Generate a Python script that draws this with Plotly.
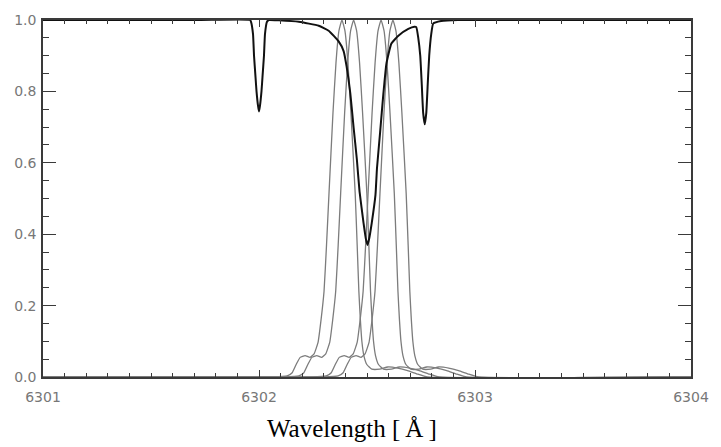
import plotly.graph_objects as go

# ---- Data ----
# Observed solar spectrum (normalised intensity) around the Fe I 6302.5 line
spec_wl = [6301.0, 6301.7235, 6301.9585, 6301.9631, 6301.9724, 6301.9770, 6301.9839, 6301.9885,
           6301.9954, 6302.0000, 6302.0046, 6302.0115, 6302.0161, 6302.0230, 6302.0276, 6302.0369,
           6302.0461, 6302.0922, 6302.1843, 6302.2765, 6302.3226, 6302.3687, 6302.3917, 6302.4055,
           6302.4226, 6302.4378, 6302.4530, 6302.4654, 6302.4839, 6302.4954, 6302.5023, 6302.5092,
           6302.5221, 6302.5392, 6302.5461, 6302.5608, 6302.5760, 6302.5899, 6302.6129, 6302.6452,
           6302.6912, 6302.7189, 6302.7281, 6302.7373, 6302.7465, 6302.7535, 6302.7600, 6302.7673,
           6302.7745, 6302.7811, 6302.7880, 6302.7972, 6302.8065, 6302.8433, 6302.9217, 6304.0]
spec_val = [1.0, 1.0, 1.0, 0.995, 0.96, 0.90, 0.84, 0.80,
            0.76, 0.744, 0.76, 0.80, 0.84, 0.90, 0.96, 0.995,
            1.0, 0.999, 0.995, 0.984, 0.97, 0.94, 0.913, 0.87,
            0.795, 0.70, 0.61, 0.52, 0.432, 0.385, 0.37, 0.385,
            0.432, 0.51, 0.584, 0.686, 0.795, 0.878, 0.934, 0.956,
            0.975, 0.981, 0.98, 0.95, 0.90, 0.82, 0.74, 0.708,
            0.74, 0.82, 0.90, 0.96, 0.99, 0.997, 1.0, 1.0]

# Filter transmission profile (offset from filter centre in Angstrom, transmission)
filt_offset = [-0.3226, -0.2535, -0.2304, -0.2120, -0.1935, -0.1705, -0.1475, -0.1290, -0.1106,
               -0.0968, -0.0829, -0.0714, -0.0599, -0.0415, -0.0276, -0.0138, 0.0,
               0.0138, 0.0276, 0.0415, 0.0613, 0.0705, 0.0783, 0.0853, 0.0922, 0.1014,
               0.1152, 0.1382, 0.1751, 0.2120, 0.2581, 0.3041, 0.3502, 0.3963]
filt_value = [0.0, 0.003, 0.012, 0.035, 0.055, 0.060, 0.055, 0.065, 0.097,
              0.16, 0.24, 0.37, 0.515, 0.74, 0.88, 0.97, 1.0,
              0.97, 0.88, 0.74, 0.515, 0.37, 0.24, 0.16, 0.10, 0.06,
              0.035, 0.022, 0.022, 0.028, 0.025, 0.018, 0.008, 0.0]
filt_centers = [6302.384, 6302.438, 6302.565, 6302.620]

x_ticks = [6301, 6302, 6303, 6304]
y_ticks = [0.0, 0.2, 0.4, 0.6, 0.8, 1.0]

fig = go.Figure()

for c in filt_centers:
    xs = [6301.0] + [c + o for o in filt_offset] + [6304.0]
    ys = [0.0] + filt_value + [0.0]
    fig.add_trace(go.Scatter(x=xs, y=ys, mode="lines",
                             line=dict(color="#7c7c7c", width=1.3, shape="spline", smoothing=0.4),
                             showlegend=False, hoverinfo="skip"))

fig.add_trace(go.Scatter(x=spec_wl, y=spec_val, mode="lines",
                         line=dict(color="#111111", width=2, shape="spline", smoothing=0.4),
                         showlegend=False))

axis_common = dict(showline=True, linecolor="#3a3a3a", linewidth=1.5, mirror="ticks",
                   ticks="inside", tickcolor="#3a3a3a", tickwidth=1.2,
                   showgrid=False, zeroline=False,
                   tickfont=dict(family="DejaVu Sans", size=14, color="#777777"))

fig.update_xaxes(range=[6301, 6304], tickvals=x_ticks, ticktext=[str(v) for v in x_ticks],
                 ticklen=7, ticklabelstandoff=6,
                 minor=dict(dtick=0.1, tick0=6301, ticklen=4, ticks="inside", tickcolor="#3a3a3a"),
                 **axis_common)
fig.update_yaxes(range=[0, 1.0], tickvals=y_ticks, ticktext=["%.1f" % v for v in y_ticks],
                 ticklen=13, ticklabelstandoff=2,
                 minor=dict(dtick=0.05, tick0=0, ticklen=6, ticks="inside", tickcolor="#3a3a3a"),
                 **axis_common)

fig.add_annotation(text="Wavelength [\u2009Å\u2009]", xref="paper", yref="paper",
                   x=0.477, y=-0.143, xanchor="center", yanchor="middle", showarrow=False,
                   font=dict(family="Liberation Serif", size=25, color="#000000"))

fig.update_layout(width=721, height=447, margin=dict(l=43, r=27, t=14, b=70),
                  paper_bgcolor="white", plot_bgcolor="white")

fig.write_html("out.html", config={"displayModeBar": False},
               post_script="document.body.style.margin='0';document.body.style.overflow='hidden';")
